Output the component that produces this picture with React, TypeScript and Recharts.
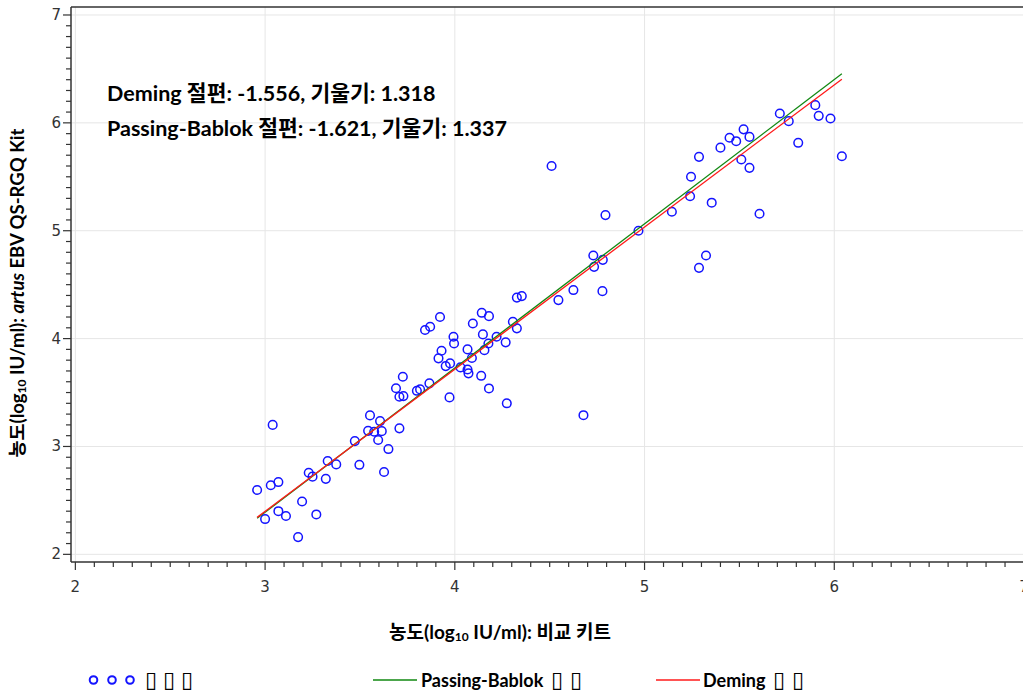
import { ScatterChart, Scatter, XAxis, YAxis, ReferenceLine, Label } from 'recharts'

// comparison kit (x) vs artus EBV QS-RGQ Kit (y), log10 IU/ml
const compX = [
  2.958, 3.0, 3.04, 3.03, 3.07, 3.07, 3.11, 3.195, 3.174, 3.23, 3.25, 3.27, 3.32, 3.33, 3.375,
  3.473, 3.497, 3.553, 3.543, 3.606, 3.575, 3.615, 3.596, 3.65, 3.627, 3.708, 3.69, 3.729, 3.726, 3.708,
  3.8, 3.817, 3.866, 3.843, 3.87, 3.922, 3.93, 3.914, 3.975, 3.952, 3.972, 3.993, 3.996, 4.03, 4.067,
  4.072, 4.067, 4.09, 4.095, 4.142, 4.18, 4.148, 4.156, 4.177, 4.22, 4.268, 4.139, 4.18, 4.274, 4.306,
  4.327, 4.327, 4.353, 4.546, 4.625, 4.51, 4.794, 4.968, 4.73, 4.78, 4.734, 4.778, 4.678, 5.144, 5.24,
  5.245, 5.287, 5.354, 5.324, 5.287, 5.4, 5.448, 5.483, 5.522, 5.553, 5.51, 5.553, 5.606, 5.713, 5.76,
  5.81, 5.9, 5.918, 5.98, 6.04,
]
const kitY = [
  2.596, 2.327, 3.2, 2.64, 2.67, 2.4, 2.355, 2.49, 2.16, 2.756, 2.72, 2.37, 2.7, 2.865, 2.834,
  3.05, 2.83, 3.288, 3.145, 3.235, 3.136, 3.142, 3.06, 2.976, 2.763, 3.168, 3.54, 3.467, 3.646, 3.461,
  3.516, 3.529, 3.585, 4.08, 4.11, 4.2, 3.887, 3.817, 3.77, 3.745, 3.455, 4.017, 3.955, 3.733, 3.714,
  3.678, 3.9, 3.82, 4.14, 4.239, 4.208, 4.039, 3.893, 3.955, 4.017, 3.965, 3.655, 3.538, 3.4, 4.156,
  4.095, 4.38, 4.394, 4.357, 4.45, 5.6, 5.145, 5.0, 4.77, 4.73, 4.665, 4.44, 3.29, 5.176, 5.32,
  5.5, 5.685, 5.26, 4.77, 4.656, 5.77, 5.862, 5.83, 5.94, 5.87, 5.66, 5.583, 5.157, 6.087, 6.016,
  5.815, 6.164, 6.065, 6.04, 5.69,
]

// fitted lines: [intercept, slope]
const deming = [-1.556, 1.318]
const passingBablok = [-1.621, 1.337]

const MAJOR_TICKS = [2, 3, 4, 5, 6, 7]
const MINOR_STEPS = [0, 1, 2, 3, 4, 5, 6, 7, 8, 9]

const annotationLines = [
  'Deming 절편: -1.556, 기울기: 1.318',
  'Passing-Bablok 절편: -1.621, 기울기: 1.337',
]

const points = compX.map((x, i) => ({ x, y: kitY[i] }))
const xMin = Math.min(...compX)
const xMax = Math.max(...compX)
const fitLine = ([a, b]: number[]) => [
  { x: xMin, y: a + b * xMin },
  { x: xMax, y: a + b * xMax },
]

const allTicks = MAJOR_TICKS.flatMap((t, i) =>
  i === MAJOR_TICKS.length - 1 ? [t] : MINOR_STEPS.map((s) => Math.round((t + s / 10) * 10) / 10)
)

const BLUE = '#1414ff'
const GREEN = '#118811'
const RED = '#ff1a1a'
const AXIS = '#333333'
const GRID = '#e6e6e6'
const TICK_FONT = "'DejaVu Sans', sans-serif"
const TITLE_FONT = "Lato, 'Noto Sans CJK KR', sans-serif"

const X_DOMAIN = [1.977, 7.0316]
const Y_DOMAIN = [1.929, 7.074]

function XTick({ x, y, payload }: any) {
  const major = Number.isInteger(payload.value)
  return (
    <g>
      <line x1={x} x2={x} y1={y} y2={y + (major ? 8 : 5)} stroke={AXIS} strokeWidth={1.2} />
      {major && (
        <text x={x} y={y + 30} textAnchor="middle" fontSize={15} fontFamily={TICK_FONT} fill="#333">
          {payload.value}
        </text>
      )}
    </g>
  )
}

function YTick({ x, y, payload }: any) {
  const major = Number.isInteger(payload.value)
  return (
    <g>
      <line x1={x} x2={x - (major ? 8 : 5)} y1={y} y2={y} stroke={AXIS} strokeWidth={1.2} />
      {major && (
        <text x={x - 10} y={y + 5} textAnchor="end" fontSize={15} fontFamily={TICK_FONT} fill="#333">
          {payload.value}
        </text>
      )}
    </g>
  )
}

function Circle({ cx, cy }: any) {
  return <circle cx={cx} cy={cy} r={4.3} fill="none" stroke={BLUE} strokeWidth={1.5} />
}

const NoShape = () => <g />

function XTitle({ viewBox }: any) {
  const x = viewBox.x + 318
  return (
    <text x={x} y={639} fontSize={19} fontWeight="bold" fontFamily={TITLE_FONT} fill="#000">
      농도(log
      <tspan fontSize={12} dy={2}>10</tspan>
      <tspan dy={-2}> IU/ml): 비교 키트</tspan>
    </text>
  )
}

function YTitle() {
  return (
    <text
      x={0}
      y={0}
      transform="translate(24, 293) rotate(-90)"
      textAnchor="middle"
      fontSize={18.5}
      fontWeight="bold"
      fontFamily={TITLE_FONT}
      fill="#000"
    >
      농도(log
      <tspan fontSize={12} dy={2}>10</tspan>
      <tspan dy={-2}> IU/ml): </tspan>
      <tspan fontStyle="italic">artus</tspan>
      <tspan> EBV QS-RGQ Kit</tspan>
    </text>
  )
}

// legend svg starts at page y = 658
function Tofu({ x }: { x: number }) {
  return (
    <text x={x} y={29} fontFamily={TICK_FONT} fontWeight="bold" fontSize={22}>
      ▯
    </text>
  )
}

export default function App() {
  return (
    <div style={{ position: 'absolute', left: 0, top: 0, width: 1023, height: 693, overflow: 'hidden', background: '#fff' }}>
      <ScatterChart width={1030} height={693} margin={{ top: 7, right: 0, left: 0, bottom: 41 }}>
        {MAJOR_TICKS.map((t) => (
          <ReferenceLine key={'v' + t} x={t} stroke={GRID} strokeWidth={1} />
        ))}
        {MAJOR_TICKS.map((t) => (
          <ReferenceLine key={'h' + t} y={t} stroke={GRID} strokeWidth={1} />
        ))}
        <ReferenceLine y={Y_DOMAIN[1]} stroke={AXIS} strokeWidth={1.5} />
        <XAxis
          type="number"
          dataKey="x"
          domain={X_DOMAIN}
          ticks={allTicks}
          interval={0}
          allowDataOverflow
          height={90}
          tickSize={0}
          tickMargin={0}
          tickLine={false}
          tick={<XTick />}
          axisLine={{ stroke: AXIS, strokeWidth: 1.5 }}
        >
          <Label content={<XTitle />} />
        </XAxis>
        <YAxis
          type="number"
          dataKey="y"
          domain={Y_DOMAIN}
          ticks={allTicks}
          interval={0}
          allowDataOverflow
          width={71}
          tickSize={0}
          tickMargin={0}
          tickLine={false}
          tick={<YTick />}
          axisLine={{ stroke: AXIS, strokeWidth: 1.5 }}
        >
          <Label content={<YTitle />} />
        </YAxis>
        <Scatter data={points} shape={<Circle />} isAnimationActive={false} />
        <Scatter
          data={fitLine(passingBablok)}
          line={{ stroke: GREEN, strokeWidth: 1.3 }}
          shape={<NoShape />}
          isAnimationActive={false}
        />
        <Scatter
          data={fitLine(deming)}
          line={{ stroke: RED, strokeWidth: 1.3 }}
          shape={<NoShape />}
          isAnimationActive={false}
        />
      </ScatterChart>

      {annotationLines.map((t, i) => (
        <div
          key={t}
          style={{
            position: 'absolute',
            left: 107,
            top: 79 + i * 35,
            fontFamily: TITLE_FONT,
            fontWeight: 'bold',
            fontSize: 21.5,
            lineHeight: '28px',
            color: '#000',
            whiteSpace: 'nowrap',
          }}
        >
          {t}
        </div>
      ))}

      <svg width={1023} height={35} style={{ position: 'absolute', left: 0, top: 658 }}>
        <g fontFamily={TITLE_FONT} fontWeight="bold" fontSize={18} fill="#000">
          {[93.5, 112, 130].map((cx) => (
            <circle key={cx} cx={cx} cy={22} r={3.8} fill="none" stroke={BLUE} strokeWidth={2} />
          ))}
          {[145, 163, 181].map((bx) => (
            <Tofu key={bx} x={bx} />
          ))}
          <line x1={373} x2={417} y1={22} y2={22} stroke={GREEN} strokeWidth={1.3} />
          <text x={421} y={29}>Passing-Bablok</text>
          <Tofu x={551} />
          <Tofu x={570} />
          <line x1={656} x2={700} y1={22} y2={22} stroke={RED} strokeWidth={1.3} />
          <text x={703} y={29}>Deming</text>
          <Tofu x={773} />
          <Tofu x={792} />
        </g>
      </svg>
    </div>
  )
}
